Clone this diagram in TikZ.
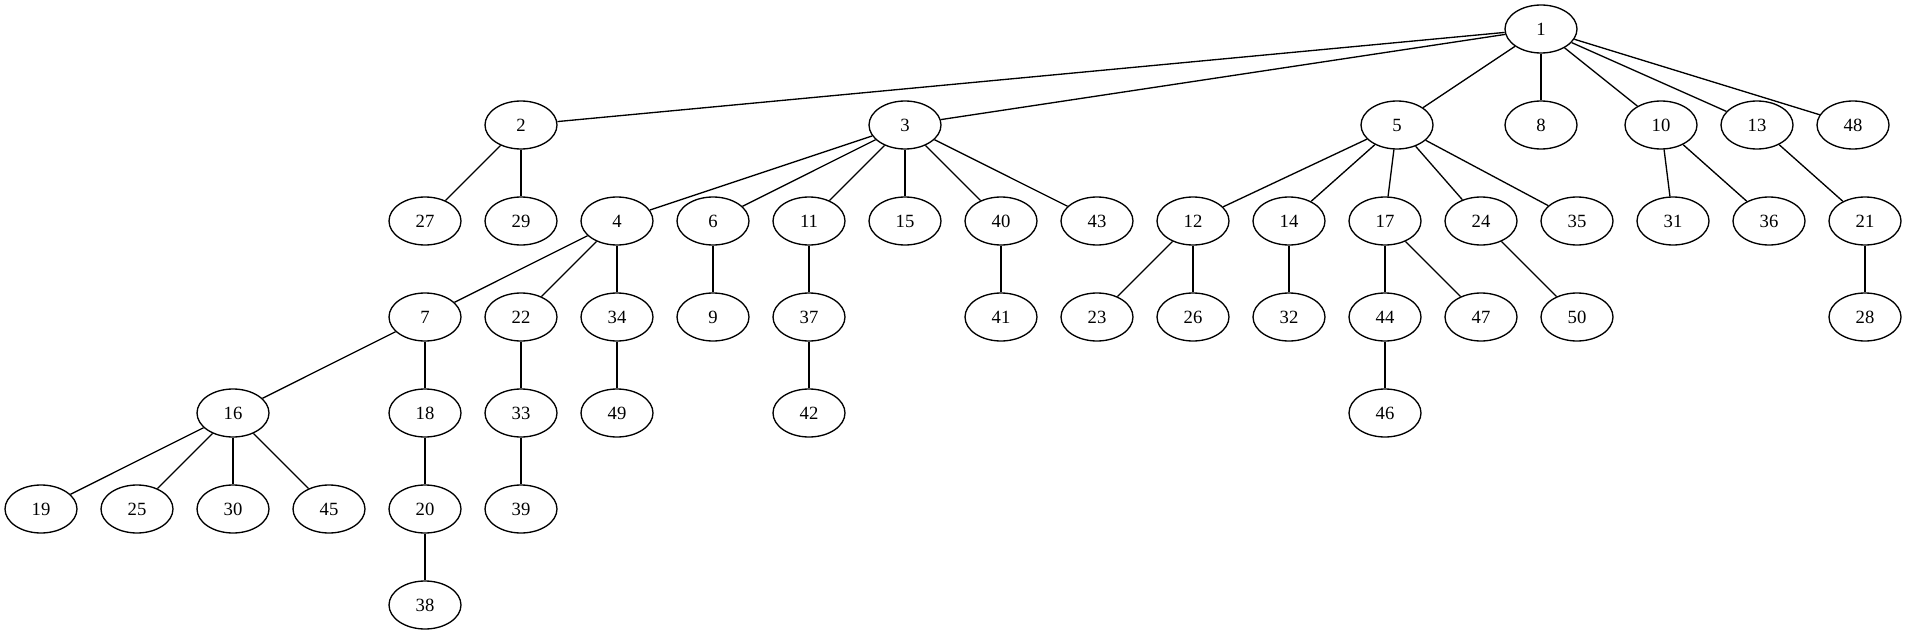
\documentclass[tikz,border=0pt]{standalone}
\usepackage{fontspec}
\setmainfont{Liberation Serif}
\tikzset{
    vertex/.style={draw, ellipse, line width=1pt, minimum width=54pt, minimum height=36pt, inner sep=0pt, font=\fontsize{14pt}{16pt}\selectfont},
    edge/.style={line width=1pt}
}
\usetikzlibrary{shapes.geometric}
\begin{document}
\begin{tikzpicture}[x=0.75pt, y=-0.75pt]
            \useasboundingbox (0,0) rectangle (1907,635);

            % Draw the root
            \node[vertex] (n1) at (1541, 29) {1};

            % Draw the first row
            \node[vertex] (n2) at (521, 125) {2};
            \node[vertex] (n3) at (905, 125) {3};
            \node[vertex] (n5) at (1397, 125) {5};
            \node[vertex] (n8) at (1541, 125) {8};
            \node[vertex] (n10) at (1661, 125) {10};
            \node[vertex] (n13) at (1757, 125) {13};
            \node[vertex] (n48) at (1853, 125) {48};

            % Draw the second row
            \node[vertex] (n27) at (425, 221) {27};
            \node[vertex] (n29) at (521, 221) {29};
            \node[vertex] (n4) at (617, 221) {4};
            \node[vertex] (n6) at (713, 221) {6};
            \node[vertex] (n11) at (809, 221) {11};
            \node[vertex] (n15) at (905, 221) {15};
            \node[vertex] (n40) at (1001, 221) {40};
            \node[vertex] (n43) at (1097, 221) {43};
            \node[vertex] (n12) at (1193, 221) {12};
            \node[vertex] (n14) at (1289, 221) {14};
            \node[vertex] (n17) at (1385, 221) {17};
            \node[vertex] (n24) at (1481, 221) {24};
            \node[vertex] (n35) at (1577, 221) {35};
            \node[vertex] (n31) at (1673, 221) {31};
            \node[vertex] (n36) at (1769, 221) {36};
            \node[vertex] (n21) at (1865, 221) {21};

            % Draw the third row
            \node[vertex] (n7) at (425, 317) {7};
            \node[vertex] (n22) at (521, 317) {22};
            \node[vertex] (n34) at (617, 317) {34};
            \node[vertex] (n9) at (713, 317) {9};
            \node[vertex] (n37) at (809, 317) {37};
            \node[vertex] (n41) at (1001, 317) {41};
            \node[vertex] (n23) at (1097, 317) {23};
            \node[vertex] (n26) at (1193, 317) {26};
            \node[vertex] (n32) at (1289, 317) {32};
            \node[vertex] (n44) at (1385, 317) {44};
            \node[vertex] (n47) at (1481, 317) {47};
            \node[vertex] (n50) at (1577, 317) {50};
            \node[vertex] (n28) at (1865, 317) {28};

            % Draw the fourth row
            \node[vertex] (n16) at (233, 413) {16};
            \node[vertex] (n18) at (425, 413) {18};
            \node[vertex] (n33) at (521, 413) {33};
            \node[vertex] (n49) at (617, 413) {49};
            \node[vertex] (n42) at (809, 413) {42};
            \node[vertex] (n46) at (1385, 413) {46};

            % Draw the fifth and sixth rows
            \node[vertex] (n19) at (41, 509) {19};
            \node[vertex] (n25) at (137, 509) {25};
            \node[vertex] (n30) at (233, 509) {30};
            \node[vertex] (n45) at (329, 509) {45};
            \node[vertex] (n20) at (425, 509) {20};
            \node[vertex] (n39) at (521, 509) {39};
            \node[vertex] (n38) at (425, 605) {38};

            % Draw the edges
            \draw[edge] (n1) -- (n2);
            \draw[edge] (n1) -- (n3);
            \draw[edge] (n1) -- (n5);
            \draw[edge] (n1) -- (n8);
            \draw[edge] (n1) -- (n10);
            \draw[edge] (n1) -- (n13);
            \draw[edge] (n1) -- (n48);
            \draw[edge] (n2) -- (n27);
            \draw[edge] (n2) -- (n29);
            \draw[edge] (n3) -- (n4);
            \draw[edge] (n3) -- (n6);
            \draw[edge] (n3) -- (n11);
            \draw[edge] (n3) -- (n15);
            \draw[edge] (n3) -- (n40);
            \draw[edge] (n3) -- (n43);
            \draw[edge] (n5) -- (n12);
            \draw[edge] (n5) -- (n14);
            \draw[edge] (n5) -- (n17);
            \draw[edge] (n5) -- (n24);
            \draw[edge] (n5) -- (n35);
            \draw[edge] (n10) -- (n31);
            \draw[edge] (n10) -- (n36);
            \draw[edge] (n13) -- (n21);
            \draw[edge] (n4) -- (n7);
            \draw[edge] (n4) -- (n22);
            \draw[edge] (n4) -- (n34);
            \draw[edge] (n6) -- (n9);
            \draw[edge] (n11) -- (n37);
            \draw[edge] (n40) -- (n41);
            \draw[edge] (n12) -- (n23);
            \draw[edge] (n12) -- (n26);
            \draw[edge] (n14) -- (n32);
            \draw[edge] (n17) -- (n44);
            \draw[edge] (n17) -- (n47);
            \draw[edge] (n24) -- (n50);
            \draw[edge] (n21) -- (n28);
            \draw[edge] (n7) -- (n16);
            \draw[edge] (n7) -- (n18);
            \draw[edge] (n22) -- (n33);
            \draw[edge] (n34) -- (n49);
            \draw[edge] (n37) -- (n42);
            \draw[edge] (n44) -- (n46);
            \draw[edge] (n16) -- (n19);
            \draw[edge] (n16) -- (n25);
            \draw[edge] (n16) -- (n30);
            \draw[edge] (n16) -- (n45);
            \draw[edge] (n18) -- (n20);
            \draw[edge] (n33) -- (n39);
            \draw[edge] (n20) -- (n38);
        \end{tikzpicture}
\end{document}
